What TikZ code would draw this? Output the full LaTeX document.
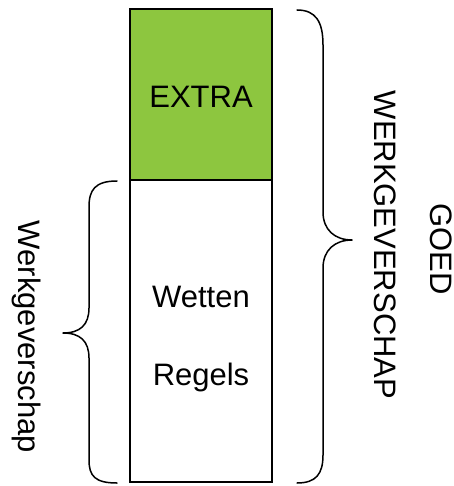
\documentclass[tikz,border=0pt]{standalone}
\usepackage{fontspec}
\setmainfont{Liberation Sans}
\definecolor{extragreen}{RGB}{141,198,63}
\begin{document}
\begin{tikzpicture}[x=1pt,y=-1pt,
  box/.style={draw=black,line width=2pt,minimum width=142pt,inner sep=0pt,outer sep=0pt},
  lbl/.style={inner sep=0pt,anchor=base,font=\fontsize{31}{37}\selectfont},
  brace/.style={draw=black,line width=1.5pt,line cap=round,line join=round}]
\useasboundingbox (0,0) rectangle (453,486);
\node[box,fill=extragreen,minimum height=171pt] (extra) at (201,94.5) {};
\node[box,fill=white,minimum height=302pt] (body) at (201,331) {};
\node[lbl] (extratxt) at (201,108) {EXTRA};
\node[lbl] (wetten) at (201,307) {Wetten};
\node[lbl] (regels) at (201,385) {Regels};
\node[lbl,rotate=-90] (werkg) at (18,337) {Werkgeverschap};
\node[lbl,rotate=-90] (werkgcap) at (374,245) {WERKGEVERSCHAP};
\node[lbl,rotate=-90] (goed) at (430,249) {GOED};
% left brace
\coordinate (lt) at (117,181);
\coordinate (lb) at (117,483);
\coordinate (ltip) at (63,333);
\draw[brace] (lt) .. controls (95,181) and (89,190) .. (89,207) -- (89,308)
  .. controls (89,325) and (80,333) .. (ltip)
  .. controls (80,333) and (89,341) .. (89,358) -- (89,460)
  .. controls (89,476) and (95,483) .. (lb);
% right brace
\coordinate (rt) at (297,10);
\coordinate (rb) at (297,483);
\coordinate (rtip) at (352,240);
\draw[brace] (rt) .. controls (316,10) and (323,22) .. (323,45) -- (323,212)
  .. controls (323,230) and (335,240) .. (rtip)
  .. controls (335,240) and (323,250) .. (323,268) -- (323,455)
  .. controls (323,474) and (316,483) .. (rb);
\end{tikzpicture}
\end{document}
